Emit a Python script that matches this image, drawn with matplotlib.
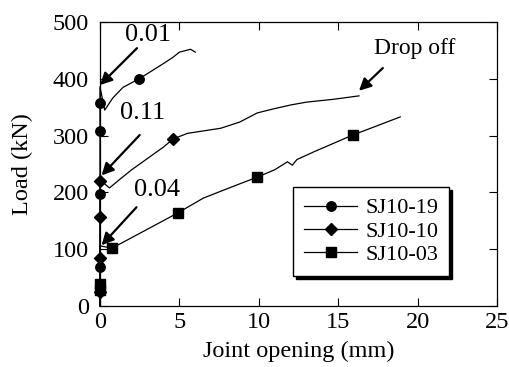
import matplotlib.pyplot as plt

plt.rcParams['font.family'] = ['Liberation Serif', 'DejaVu Serif']

# SJ10-19 (circles)
x19 = [0, 0, 0.3, 0.8, 1.45, 2.46, 3.15, 4.0, 4.6, 5.0, 5.7, 6.0]
y19 = [0, 386, 345, 366, 385, 400, 412, 427, 438, 447, 452, 447]
mx19 = [0, 0, 0, 0, 2.46]
my19 = [69, 197, 308, 357, 400]

# SJ10-10 (diamonds)
x10 = [0, 0, 0.6, 1.2, 2.0, 3.0, 4.0, 4.6, 5.5, 7.6, 8.8, 9.9, 10.9, 12.0,
       13.0, 14.7, 16.3]
y10 = [0, 222, 208, 222, 240, 260, 280, 294, 304, 313, 324, 340, 347, 354,
       359, 364, 370]
mx10 = [0, 0, 0, 0, 4.6]
my10 = [25, 84, 157, 220, 294]

# SJ10-03 (squares)
x03 = [0, 0, 0.76, 2.5, 4.9, 6.5, 8.5, 9.9, 11.0, 11.8, 12.1, 12.4, 13.5,
       15.9, 17.5, 18.9]
y03 = [0, 106, 102, 128, 164, 190, 212, 227, 240, 254, 248, 258, 272,
       301, 318, 333]
mx03 = [0, 0, 0.76, 4.9, 9.9, 15.9]
my03 = [28, 38, 102, 164, 227, 301]

fig = plt.figure(figsize=(5.1, 3.67), dpi=100)
ax = fig.add_axes([0.196, 0.166, 0.779, 0.774])

lw = 0.9
for xs, ys, mxs, mys, mk, ms, lab in [
        (x19, y19, mx19, my19, 'o', 6.8, 'SJ10-19'),
        (x10, y10, mx10, my10, 'D', 6.2, 'SJ10-10'),
        (x03, y03, mx03, my03, 's', 7.0, 'SJ10-03')]:
    ax.plot(xs, ys, color='black', lw=lw, clip_on=False)
    ax.plot(mxs, mys, ls='none', marker=mk, ms=ms, color='black', clip_on=False)
    ax.plot([], [], color='black', lw=lw, marker=mk, ms=ms, label=lab)

arrow = dict(arrowstyle='-|>', color='black', lw=1.6, mutation_scale=18,
             shrinkA=0, shrinkB=0)
ax.annotate('', xy=(0, 389), xytext=(2.33, 454), arrowprops=arrow)
ax.text(3.0, 478, '0.01', fontsize=19, ha='center', va='center')
ax.annotate('', xy=(0.1, 230), xytext=(2.5, 301), arrowprops=arrow)
ax.text(2.7, 340, '0.11', fontsize=19, ha='center', va='center')
ax.annotate('', xy=(0.1, 107), xytext=(2.3, 174), arrowprops=arrow)
ax.text(3.6, 204, '0.04', fontsize=19, ha='center', va='center')
ax.annotate('', xy=(16.3, 379), xytext=(17.8, 419), arrowprops=arrow)
ax.text(19.8, 454, 'Drop off', fontsize=17, ha='center', va='center')

ax.set_xlim(0, 25)
ax.set_ylim(0, 500)
ax.set_xticks([0, 5, 10, 15, 20, 25])
ax.set_yticks([0, 100, 200, 300, 400, 500])
ax.tick_params(direction='in', length=6, width=0.8, top=True, right=True,
               labelsize=17.5)
ax.tick_params(axis='x', pad=4)
ax.tick_params(axis='y', pad=8)
ax.set_xlabel('Joint opening (mm)', fontsize=17.5, labelpad=6)
ax.set_ylabel('Load (kN)', fontsize=17.5, labelpad=14)
for s in ax.spines.values():
    s.set_linewidth(0.9)

leg = ax.legend(loc='upper left', bbox_to_anchor=(0.486, 0.42), fontsize=16,
                frameon=True, fancybox=False, edgecolor='black',
                shadow={'color': 'black', 'alpha': 1}, handlelength=2.4,
                borderpad=0.5, labelspacing=0.12, handletextpad=0.35,
                borderaxespad=0)
leg.get_frame().set_linewidth(1.0)

fig.savefig('out.png', dpi=100)
